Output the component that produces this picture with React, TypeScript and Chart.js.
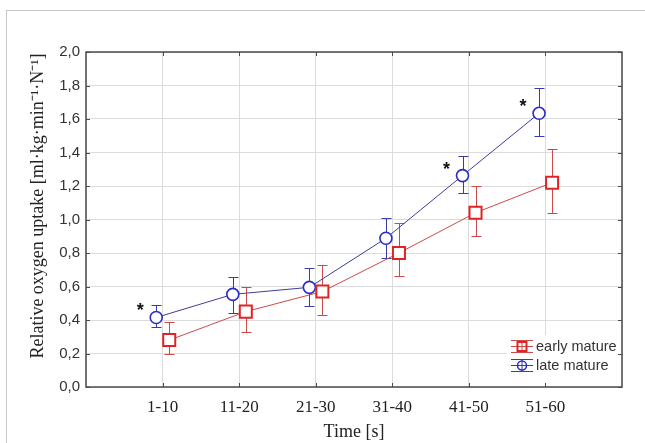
import React, { useEffect, useRef } from 'react';
import { Chart, registerables } from 'chart.js';

Chart.register(...registerables);

// ---- data ----
const categories = ['1-10', '11-20', '21-30', '31-40', '41-50', '51-60'];
const earlyMean = [0.28, 0.45, 0.57, 0.80, 1.04, 1.22];
const earlyLow = [0.20, 0.33, 0.43, 0.66, 0.90, 1.04];
const earlyHigh = [0.39, 0.60, 0.73, 0.98, 1.20, 1.42];
const lateMean = [0.415, 0.553, 0.595, 0.888, 1.262, 1.634];
const lateLow = [0.36, 0.44, 0.485, 0.772, 1.156, 1.499];
const lateHigh = [0.49, 0.655, 0.712, 1.007, 1.381, 1.783];
const lateSignificant = [true, false, false, false, true, true];
const seriesLabels = ['early mature', 'late mature'];
const xTitle = 'Time [s]';
const yTitle = 'Relative oxygen uptake [ml·kg·min⁻¹·N⁻¹]';

// ---- styles ----
const RED_MARK = '#e02424';
const RED_LINE = '#cc4a4a';
const BLUE_MARK = '#2b2bcc';
const BLUE_LINE = '#3d3d9c';
const EARLY_OFF = 0.087;
const LATE_OFF = -0.083;
const SERIF = '"Liberation Serif", "Times New Roman", serif';
const SANS = '"Liberation Sans", Arial, sans-serif';

const errorSets = [
  { low: earlyLow, high: earlyHigh, off: EARLY_OFF, color: RED_LINE },
  { low: lateLow, high: lateHigh, off: LATE_OFF, color: '#3a3aa8' },
];

const overlayPlugin = {
  id: 'overlay',
  beforeDatasetsDraw(chart: any) {
    const { ctx, scales } = chart;
    const x = scales.x;
    const y = scales.y;
    ctx.save();
    ctx.lineWidth = 1;
    errorSets.forEach((s) => {
      ctx.strokeStyle = s.color;
      s.low.forEach((lo: number, i: number) => {
        const px = Math.round(x.getPixelForValue(i + s.off)) + 0.5;
        const y1 = Math.round(y.getPixelForValue(lo)) + 0.5;
        const y2 = Math.round(y.getPixelForValue(s.high[i])) + 0.5;
        ctx.beginPath();
        ctx.moveTo(px, y1);
        ctx.lineTo(px, y2);
        ctx.moveTo(px - 5, y1);
        ctx.lineTo(px + 5, y1);
        ctx.moveTo(px - 5, y2);
        ctx.lineTo(px + 5, y2);
        ctx.stroke();
      });
    });
    ctx.restore();
  },
  afterDatasetsDraw(chart: any) {
    const { ctx, scales, chartArea: ca } = chart;
    const x = scales.x;
    const y = scales.y;
    ctx.save();
    // asterisks
    ctx.fillStyle = '#111';
    ctx.font = 'bold 18px ' + SANS;
    ctx.textAlign = 'center';
    ctx.textBaseline = 'alphabetic';
    lateSignificant.forEach((sig, i) => {
      if (!sig) return;
      const px = x.getPixelForValue(i + LATE_OFF);
      const py = y.getPixelForValue(lateMean[i]);
      ctx.fillText('*', px - 16, py - 1);
    });
    // legend
    const lx = ca.right - 115;
    const ly = ca.bottom - 52;
    ctx.fillStyle = '#ffffff';
    ctx.fillRect(lx, ly, ca.right - lx - 1, ca.bottom - ly - 1);
    const rows = [
      { label: seriesLabels[0], mark: RED_MARK, line: RED_LINE, shape: 'rect', y: ca.bottom - 41 },
      { label: seriesLabels[1], mark: BLUE_MARK, line: BLUE_LINE, shape: 'circle', y: ca.bottom - 22 },
    ];
    rows.forEach((r) => {
      const cx = ca.right - 100;
      const cy = r.y + 0.5;
      ctx.strokeStyle = r.line;
      ctx.lineWidth = 1;
      ctx.beginPath();
      ctx.moveTo(cx - 11, cy);
      ctx.lineTo(cx + 11, cy);
      ctx.moveTo(cx - 11, cy - 6);
      ctx.lineTo(cx + 11, cy - 6);
      ctx.moveTo(cx - 11, cy + 6);
      ctx.lineTo(cx + 11, cy + 6);
      ctx.moveTo(cx, cy - 6);
      ctx.lineTo(cx, cy + 6);
      ctx.stroke();
      ctx.strokeStyle = r.mark;
      ctx.lineWidth = r.shape === 'rect' ? 2 : 1.5;
      ctx.beginPath();
      if (r.shape === 'rect') ctx.rect(cx - 4.5, cy - 4.5, 9, 9);
      else ctx.arc(cx, cy, 4.5, 0, Math.PI * 2);
      ctx.stroke();
      ctx.fillStyle = '#333';
      ctx.font = '14.5px ' + SANS;
      ctx.textAlign = 'left';
      ctx.textBaseline = 'middle';
      ctx.fillText(r.label, ca.right - 86, cy);
    });
    ctx.restore();
  },
  afterDraw(chart: any) {
    const { ctx, scales, chartArea: ca } = chart;
    const x = scales.x;
    const y = scales.y;
    ctx.save();
    ctx.strokeStyle = '#4a4a4a';
    ctx.lineWidth = 1.5;
    ctx.strokeRect(ca.left, ca.top, ca.right - ca.left, ca.bottom - ca.top);
    ctx.lineWidth = 1;
    ctx.beginPath();
    categories.forEach((_, i) => {
      const px = Math.round(x.getPixelForValue(i)) + 0.5;
      ctx.moveTo(px, ca.top);
      ctx.lineTo(px, ca.top + 4);
      ctx.moveTo(px, ca.bottom);
      ctx.lineTo(px, ca.bottom - 4);
    });
    y.ticks.forEach((t: any) => {
      const py = Math.round(y.getPixelForValue(t.value)) + 0.5;
      ctx.moveTo(ca.left, py);
      ctx.lineTo(ca.left + 4, py);
      ctx.moveTo(ca.right, py);
      ctx.lineTo(ca.right - 4, py);
    });
    ctx.stroke();
    ctx.restore();
  },
};

export default function App() {
  const ref = useRef<HTMLCanvasElement | null>(null);

  useEffect(() => {
    if (!ref.current) return;
    const chart = new Chart(ref.current, {
      type: 'line',
      data: {
        datasets: [
          {
            label: seriesLabels[0],
            data: earlyMean.map((v, i) => ({ x: i + EARLY_OFF, y: v })),
            borderColor: RED_LINE,
            borderWidth: 1,
            pointStyle: 'rect',
            pointRadius: 8.5,
            pointBorderWidth: 2,
            pointBorderColor: RED_MARK,
            pointBackgroundColor: '#ffffff',
            pointHoverRadius: 8.5,
            fill: false,
            tension: 0,
          },
          {
            label: seriesLabels[1],
            data: lateMean.map((v, i) => ({ x: i + LATE_OFF, y: v })),
            borderColor: BLUE_LINE,
            borderWidth: 1,
            pointStyle: 'circle',
            pointRadius: 6,
            pointBorderWidth: 1.6,
            pointBorderColor: BLUE_MARK,
            pointBackgroundColor: '#ffffff',
            pointHoverRadius: 6,
            fill: false,
            tension: 0,
          },
        ],
      },
      options: {
        responsive: false,
        animation: false,
        events: [],
        layout: { padding: { left: 0, top: 52, right: 23, bottom: 0 } },
        plugins: {
          legend: { display: false },
          tooltip: { enabled: false },
        },
        scales: {
          x: {
            type: 'linear',
            min: -1,
            max: 6,
            afterFit: (s: any) => {
              s.height = 56;
            },
            ticks: {
              stepSize: 1,
              autoSkip: false,
              maxRotation: 0,
              padding: 10,
              color: '#222',
              font: { family: SERIF, size: 17 },
              callback: (v: any) => {
                const n = Number(v);
                return Number.isInteger(n) && categories[n] !== undefined ? categories[n] : '';
              },
            },
            grid: { color: '#dcdcdc', drawTicks: false, lineWidth: 1 },
            border: { display: false },
            title: {
              display: true,
              text: xTitle,
              color: '#222',
              font: { family: SERIF, size: 18 },
              padding: { top: 0, bottom: 0 },
            },
          },
          y: {
            type: 'linear',
            min: 0,
            max: 2,
            afterFit: (s: any) => {
              s.width = 86;
            },
            ticks: {
              stepSize: 0.2,
              padding: 6,
              color: '#333',
              font: { family: SANS, size: 15 },
              callback: (v: any) => Number(v).toFixed(1).replace('.', ','),
            },
            grid: { color: '#dcdcdc', drawTicks: false, lineWidth: 1 },
            border: { display: false },
            title: {
              display: true,
              text: '      ' + yTitle,
              color: '#222',
              font: { family: SERIF, size: 18 },
              padding: { top: 27, bottom: 0 },
            },
          },
        },
      },
      plugins: [overlayPlugin],
    } as any);
    return () => chart.destroy();
  }, []);

  return (
    <div style={{ position: 'fixed', left: 0, top: 0, width: 645, height: 443, background: '#fff', overflow: 'hidden' }}>
      <div
        style={{
          position: 'absolute',
          left: 6,
          top: 10,
          right: -4,
          bottom: -4,
          borderTop: '1px solid #c8c8c8',
          borderLeft: '1px solid #c8c8c8',
        }}
      />
      <canvas ref={ref} width={645} height={443} style={{ position: 'absolute', left: 0, top: 0 }} />
    </div>
  );
}
